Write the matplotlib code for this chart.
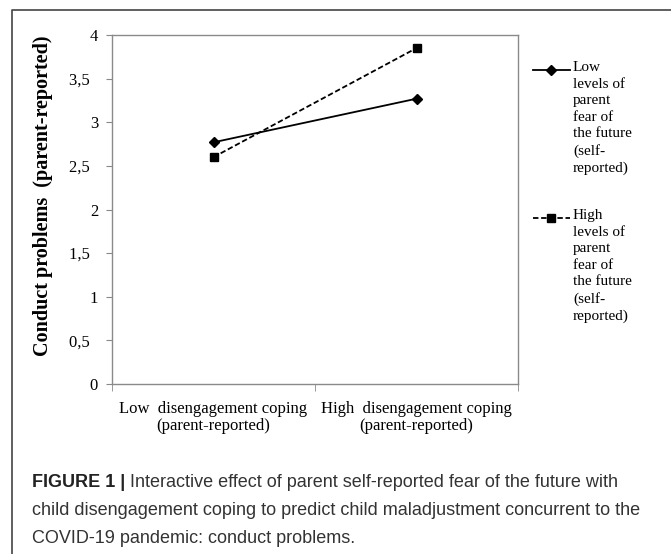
import matplotlib
matplotlib.use('Agg')
import matplotlib.pyplot as plt
from matplotlib.lines import Line2D

# datos
categorias = ['Low  disengagement coping\n(parent-reported)',
              'High  disengagement coping\n(parent-reported)']
bajo_miedo = [2.77, 3.27]
alto_miedo = [2.60, 3.85]
etiquetas = ['Low\nlevels of\nparent\nfear of\nthe future\n(self-\nreported)',
             'High\nlevels of\nparent\nfear of\nthe future\n(self-\nreported)']
y_ticks = [0, 0.5, 1, 1.5, 2, 2.5, 3, 3.5, 4]
y_ticklabels = ['0', '0,5  ', '1', '1,5  ', '2', '2,5  ', '3', '3,5  ', '4']

serif = 'Liberation Serif'
sans = 'Liberation Sans'

fig = plt.figure(figsize=(6.71, 5.54), dpi=100)
ax = fig.add_axes([112/671, 1-384/554, 406/671, 349/554])

x = list(range(len(categorias)))
ax.plot(x, bajo_miedo, color='black', linewidth=1.3, marker='D', markersize=5)
ax.plot(x, alto_miedo, color='black', linewidth=1.3, linestyle=(0, (3, 1.5)),
        marker='s', markersize=6)

ax.set_xlim(-0.5, 1.5)
ax.set_ylim(0, 4)
ax.set_yticks(y_ticks)
ax.set_yticklabels(y_ticklabels, fontname=serif, fontsize=12)
ax.set_xticks(x)
ax.set_xticklabels(categorias, fontname=serif, fontsize=12, linespacing=1.1)
ax.tick_params(axis='x', length=0, pad=12)
ax.set_xticks([-0.5, 0.5, 1.5], minor=True)
ax.tick_params(axis='x', which='minor', length=5, color='#888888')
ax.tick_params(axis='y', length=4, color='#888888', pad=6)
for s in ax.spines.values():
    s.set_color('#8a8a8a')
    s.set_linewidth(1)

ax.set_ylabel('Conduct problems  (parent-reported)', fontname=serif,
              fontsize=14.5, fontweight='bold')
ax.yaxis.set_label_coords(-0.146, 0.54)

# leyenda manual
estilos = [dict(linestyle='-', marker='D', markersize=5),
           dict(linestyle=(0, (3, 1.5)), marker='s', markersize=6)]
for i, (lab, est) in enumerate(zip(etiquetas, estilos)):
    ymid = 1 - (70 + 148*i)/554
    fig.add_artist(Line2D([533/671, 570/671], [ymid, ymid], color='black',
                          linewidth=1.3, linestyle=est['linestyle']))
    fig.add_artist(Line2D([551/671], [ymid], color='black', marker=est['marker'],
                          markersize=est['markersize'], linestyle='none'))
    fig.text(573/671, ymid + 9/554, lab, fontname=serif, fontsize=11,
             va='top', ha='left', linespacing=1.36)

# marco
fig.add_artist(Line2D([12/671, 12/671, 1], [0, 1-10/554, 1-10/554],
                      color='#444444', linewidth=1.2))

# pie de figura
fig.canvas.draw()
r = fig.canvas.get_renderer()
t1 = fig.text(32/671, 1-487/554, 'FIGURE 1 |', fontname=sans, fontsize=13,
              fontweight='bold', color='#222222', va='baseline')
bb = t1.get_window_extent(r)
fig.text((bb.x1 + 5)/671, 1-487/554,
         'Interactive effect of parent self-reported fear of the future with',
         fontname=sans, fontsize=13, color='#333333', va='baseline')
fig.text(32/671, 1-515/554,
         'child disengagement coping to predict child maladjustment concurrent to the',
         fontname=sans, fontsize=13, color='#333333', va='baseline')
fig.text(32/671, 1-543/554, 'COVID-19 pandemic: conduct problems.',
         fontname=sans, fontsize=13, color='#333333', va='baseline')

plt.savefig('out.png', dpi=100)
